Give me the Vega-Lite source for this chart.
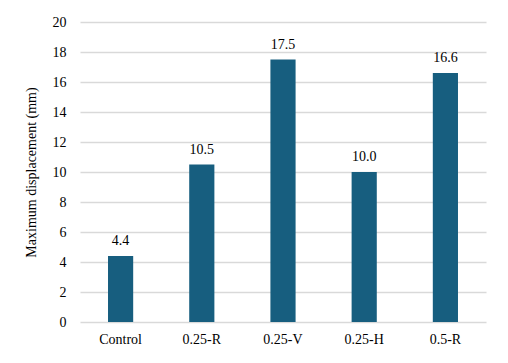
{
  "$schema": "https://vega.github.io/schema/vega-lite/v6.json",
  "width": 406,
  "height": 300,
  "autosize": {"type": "none"},
  "padding": {"left": 80, "top": 22, "right": 22, "bottom": 41},
  "background": "white",
  "config": {
    "font": "'Times New Roman', 'Liberation Serif', 'DejaVu Serif', serif",
    "view": {"stroke": null},
    "axis": {"labelFont": "'Times New Roman', 'Liberation Serif', 'DejaVu Serif', serif", "titleFont": "'Times New Roman', 'Liberation Serif', 'DejaVu Serif', serif", "labelColor": "#000000", "titleColor": "#000000"}
  },
  "data": {
    "values": [
      {"group": "Control", "value": 4.4},
      {"group": "0.25-R", "value": 10.5},
      {"group": "0.25-V", "value": 17.5},
      {"group": "0.25-H", "value": 10.0},
      {"group": "0.5-R", "value": 16.6}
    ]
  },
  "encoding": {
    "x": {
      "field": "group",
      "type": "nominal",
      "sort": null,
      "scale": {"paddingInner": 0.69, "paddingOuter": 0.345},
      "axis": {"title": null, "labelAngle": 0, "labelFontSize": 14, "labelPadding": 10, "ticks": false, "domain": false, "grid": false}
    },
    "y": {
      "field": "value",
      "type": "quantitative",
      "scale": {"domain": [0, 20], "nice": false},
      "axis": {
        "title": "Maximum displacement (mm)",
        "titleFontSize": 14,
        "titleFontWeight": "normal",
        "titlePadding": 14,
        "values": [0, 2, 4, 6, 8, 10, 12, 14, 16, 18, 20],
        "labelFontSize": 14,
        "labelPadding": 14,
        "ticks": false,
        "domain": false,
        "grid": true,
        "gridColor": "#d9d9d9",
        "gridWidth": 1.3
      }
    }
  },
  "layer": [
    {"mark": {"type": "bar", "color": "#175e7f"}},
    {
      "mark": {"type": "text", "baseline": "bottom", "dy": -8, "fontSize": 14, "font": "'Times New Roman', 'Liberation Serif', 'DejaVu Serif', serif", "color": "#000000"},
      "encoding": {"text": {"field": "value", "type": "quantitative", "format": ".1f"}}
    }
  ]
}
